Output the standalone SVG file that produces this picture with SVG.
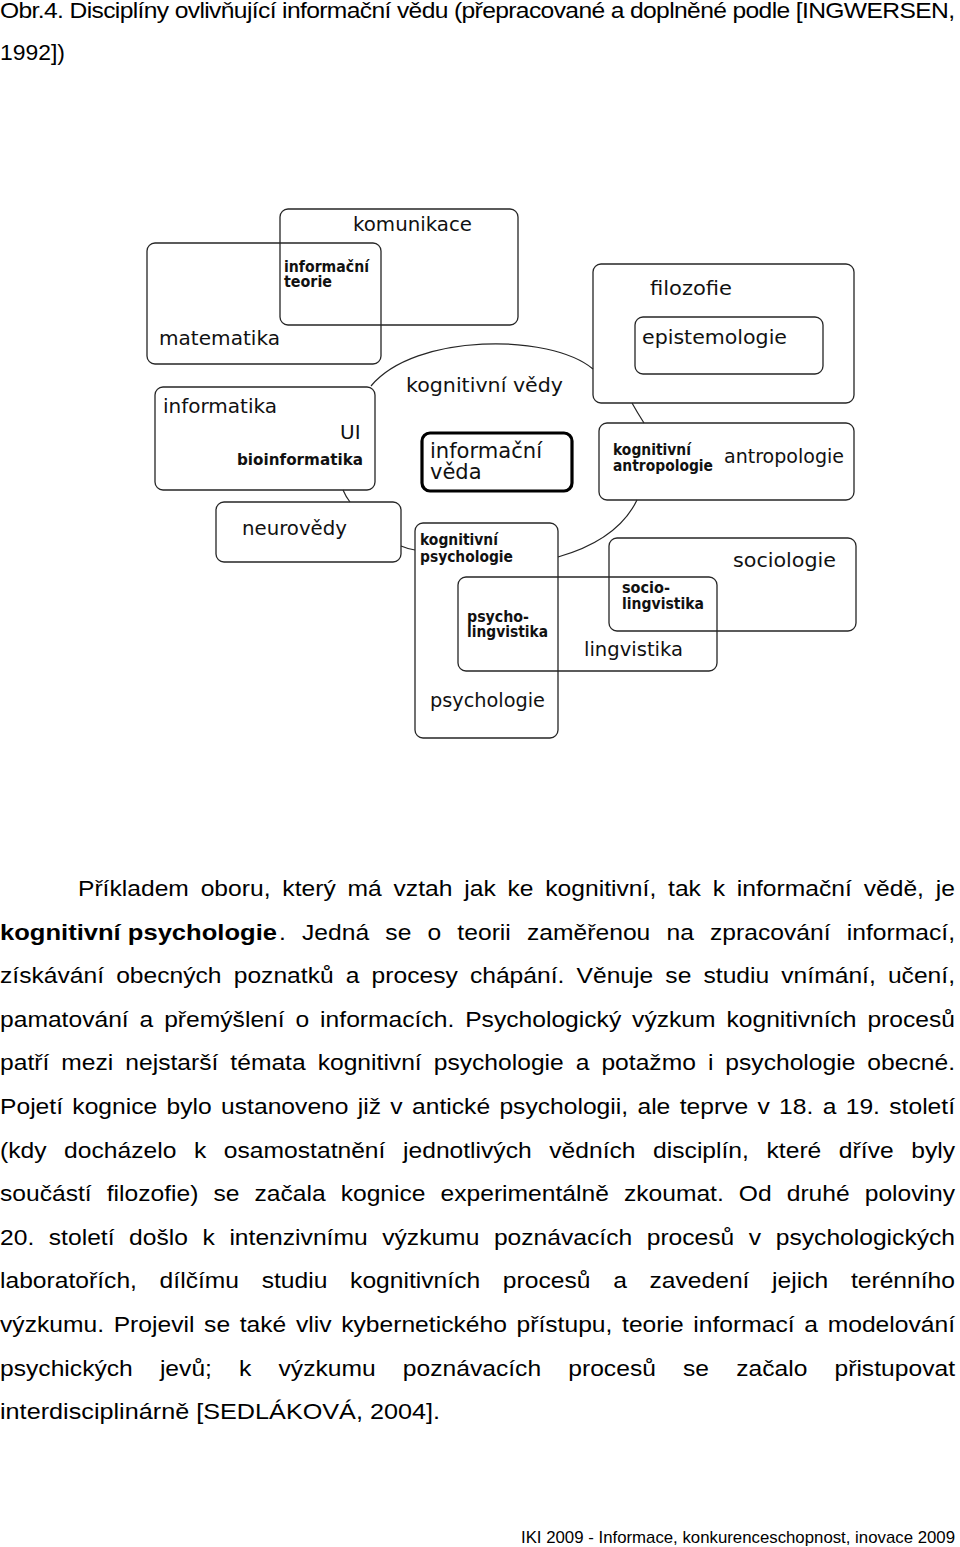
<svg xmlns="http://www.w3.org/2000/svg" width="960" height="1547" viewBox="0 0 960 1547">
<style>
.box{fill:none;stroke:#262626;stroke-width:1.3}
.bold-box{fill:none;stroke:#000;stroke-width:3.2}
.lbl{font-family:"DejaVu Sans",Verdana,sans-serif;font-size:20px;fill:#111}
.sm{font-family:"DejaVu Sans",Verdana,sans-serif;font-size:15px;font-weight:bold;fill:#111}
.con{fill:none;stroke:#262626;stroke-width:1.2}
.body{font-family:"Liberation Sans",Arial,sans-serif;font-size:22px;fill:#000}
.b{font-weight:bold}
.foot{font-family:"Liberation Sans",Arial,sans-serif;font-size:17px;fill:#000}
</style>
<rect width="960" height="1547" fill="#fff"/>

<g id="caption" transform="scale(1.12,1)">
<text class="body" x="0" y="18" textLength="852.7" lengthAdjust="spacing">Obr.4. Disciplíny ovlivňující informační vědu (přepracované a doplněné podle [INGWERSEN,</text>
<text class="body" x="0" y="60" textLength="58" lengthAdjust="spacingAndGlyphs">1992])</text>
</g>

<g id="connectors">
<path class="con" d="M371,386 C415,333 550,333 593,369"/>
<path class="con" d="M632,403 Q637,412 644,423"/>
<path class="con" d="M637,500 C625,525 600,545 558,557"/>
<path class="con" d="M401,546 Q408,549 415,550"/>
<path class="con" d="M343,490 Q346,497 350,502"/>
</g>

<g id="komunikace">
<rect class="box" x="280" y="209" width="238" height="116" rx="8"/>
<text class="lbl" x="353" y="231" textLength="119" lengthAdjust="spacingAndGlyphs">komunikace</text>
</g>
<g id="matematika">
<rect class="box" x="147" y="243" width="234" height="121" rx="8"/>
<text class="lbl" x="159" y="345" textLength="121" lengthAdjust="spacingAndGlyphs">matematika</text>
</g>
<g id="informacni-teorie">
<text class="sm" x="284" y="272" textLength="85" lengthAdjust="spacingAndGlyphs">informační</text>
<text class="sm" x="284" y="287" textLength="48" lengthAdjust="spacingAndGlyphs">teorie</text>
</g>
<g id="informatika">
<rect class="box" x="155" y="387" width="220" height="103" rx="8"/>
<text class="lbl" x="163" y="413" textLength="114" lengthAdjust="spacingAndGlyphs">informatika</text>
<text class="lbl" x="340" y="439">UI</text>
<text class="sm" x="237" y="465" textLength="126" lengthAdjust="spacingAndGlyphs">bioinformatika</text>
</g>
<g id="kognitivni-vedy">
<text class="lbl" x="406" y="392" textLength="157" lengthAdjust="spacingAndGlyphs">kognitivní vědy</text>
</g>
<g id="informacni-veda">
<rect class="bold-box" x="422" y="433" width="150" height="58" rx="8"/>
<text class="lbl" x="430" y="458" style="font-size:21px" textLength="112" lengthAdjust="spacingAndGlyphs">informační</text>
<text class="lbl" x="430" y="479" style="font-size:21px">věda</text>
</g>
<g id="filozofie">
<rect class="box" x="593" y="264" width="261" height="139" rx="8"/>
<text class="lbl" x="650" y="295" textLength="82" lengthAdjust="spacingAndGlyphs">filozofie</text>
</g>
<g id="epistemologie">
<rect class="box" x="635" y="317" width="188" height="57" rx="8"/>
<text class="lbl" x="642" y="344" textLength="145" lengthAdjust="spacingAndGlyphs">epistemologie</text>
</g>
<g id="antropologie">
<rect class="box" x="599" y="423" width="255" height="77" rx="8"/>
<text class="sm" x="613" y="455" textLength="78" lengthAdjust="spacingAndGlyphs">kognitivní</text>
<text class="sm" x="613" y="471" textLength="100" lengthAdjust="spacingAndGlyphs">antropologie</text>
<text class="lbl" x="724" y="463" textLength="120" lengthAdjust="spacingAndGlyphs">antropologie</text>
</g>
<g id="neurovedy">
<rect class="box" x="216" y="502" width="185" height="60" rx="8"/>
<text class="lbl" x="242" y="535" textLength="105" lengthAdjust="spacingAndGlyphs">neurovědy</text>
</g>
<g id="psychologie">
<rect class="box" x="415" y="523" width="143" height="215" rx="8"/>
<text class="sm" x="420" y="545" textLength="78" lengthAdjust="spacingAndGlyphs">kognitivní</text>
<text class="sm" x="420" y="562" textLength="93" lengthAdjust="spacingAndGlyphs">psychologie</text>
<text class="lbl" x="430" y="707" textLength="115" lengthAdjust="spacingAndGlyphs">psychologie</text>
</g>
<g id="lingvistika">
<rect class="box" x="458" y="577" width="259" height="94" rx="8"/>
<text class="sm" x="467" y="622" textLength="62" lengthAdjust="spacingAndGlyphs">psycho-</text>
<text class="sm" x="467" y="637" textLength="81" lengthAdjust="spacingAndGlyphs">lingvistika</text>
<text class="lbl" x="584" y="656" textLength="99" lengthAdjust="spacingAndGlyphs">lingvistika</text>
</g>
<g id="sociologie">
<rect class="box" x="609" y="538" width="247" height="93" rx="8"/>
<text class="sm" x="622" y="593" textLength="48" lengthAdjust="spacingAndGlyphs">socio-</text>
<text class="sm" x="622" y="609" textLength="82" lengthAdjust="spacingAndGlyphs">lingvistika</text>
<text class="lbl" x="733" y="567" textLength="103" lengthAdjust="spacingAndGlyphs">sociologie</text>
</g>

<g id="body-text" transform="scale(1.12,1)">
<text class="body" x="69.6" y="896" style="word-spacing:4.4px" textLength="783" lengthAdjust="spacing">Příkladem oboru, který má vztah jak ke kognitivní, tak k informační vědě, je</text>
<text class="body b" x="0" y="939.6" textLength="247.3" lengthAdjust="spacingAndGlyphs">kognitivní psychologie</text>
<text class="body" x="249.1" y="939.6" style="word-spacing:8.3px" textLength="603.6" lengthAdjust="spacing">. Jedná se o teorii zaměřenou na zpracování informací,</text>
<text class="body" x="0" y="983.2" style="word-spacing:4.7px" textLength="852.7" lengthAdjust="spacing">získávání obecných poznatků a procesy chápání. Věnuje se studiu vnímání, učení,</text>
<text class="body" x="0" y="1026.8" style="word-spacing:3.6px" textLength="852.7" lengthAdjust="spacing">pamatování a přemýšlení o informacích. Psychologický výzkum kognitivních procesů</text>
<text class="body" x="0" y="1070.4" style="word-spacing:4.6px" textLength="852.7" lengthAdjust="spacing">patří mezi nejstarší témata kognitivní psychologie a potažmo i psychologie obecné.</text>
<text class="body" x="0" y="1114" style="word-spacing:2.2px" textLength="852.7" lengthAdjust="spacing">Pojetí kognice bylo ustanoveno již v antické psychologii, ale teprve v 18. a 19. století</text>
<text class="body" x="0" y="1157.6" style="word-spacing:9.6px" textLength="852.7" lengthAdjust="spacing">(kdy docházelo k osamostatnění jednotlivých vědních disciplín, které dříve byly</text>
<text class="body" x="0" y="1201.2" style="word-spacing:7.3px" textLength="852.7" lengthAdjust="spacing">součástí filozofie) se začala kognice experimentálně zkoumat. Od druhé poloviny</text>
<text class="body" x="0" y="1244.8" style="word-spacing:6.9px" textLength="852.7" lengthAdjust="spacing">20. století došlo k intenzivnímu výzkumu poznávacích procesů v psychologických</text>
<text class="body" x="0" y="1288.4" style="word-spacing:14.1px" textLength="852.7" lengthAdjust="spacing">laboratořích, dílčímu studiu kognitivních procesů a zavedení jejich terénního</text>
<text class="body" x="0" y="1332" style="word-spacing:2.5px" textLength="852.7" lengthAdjust="spacing">výzkumu. Projevil se také vliv kybernetického přístupu, teorie informací a modelování</text>
<text class="body" x="0" y="1375.6" style="word-spacing:18.1px" textLength="852.7" lengthAdjust="spacing">psychických jevů; k výzkumu poznávacích procesů se začalo přistupovat</text>
<text class="body" x="0" y="1419.2" textLength="392.9" lengthAdjust="spacingAndGlyphs">interdisciplinárně [SEDLÁKOVÁ, 2004].</text>
</g>

<g id="footer">
<text class="foot" x="521" y="1543" textLength="434" lengthAdjust="spacingAndGlyphs">IKI 2009 - Informace, konkurenceschopnost, inovace 2009</text>
</g>
</svg>
